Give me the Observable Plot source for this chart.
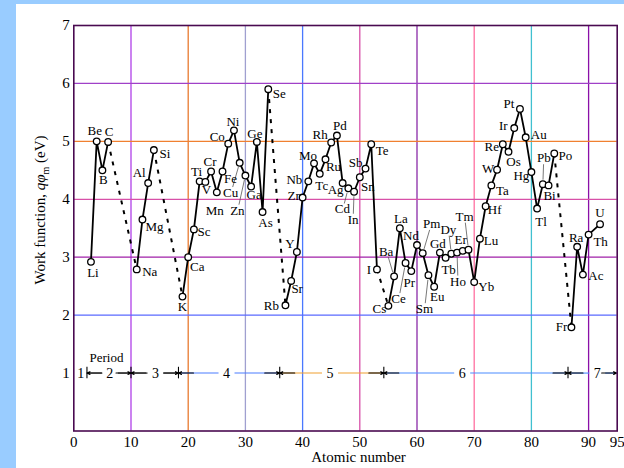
<!DOCTYPE html>
<html><head><meta charset="utf-8">
<script src="https://cdn.jsdelivr.net/npm/d3@7"></script>
<script src="https://cdn.jsdelivr.net/npm/@observablehq/plot@0.6"></script>
<style>
html,body{margin:0;padding:0;background:#99ccff;width:624px;height:468px;overflow:hidden}
#chart{position:absolute;left:16px;top:4px;width:608px;height:464px;background:#fff;overflow:hidden}
</style></head><body><div id="chart"></div>
<script>
// ---- data ----
const atomicNumber = [3,4,5,6, 11,12,13,14, 19,20,21,22,23,24,25,26,27,28,29,30,31,32,33,34,
  37,38,39,40,41,42,43,44,45,46,47,48,49,50,51,52,53,
  55,56,57,58,59,60,61,62,63,64,65,66,67,68,69,70,71,72,73,74,75,76,77,78,79,80,81,82,83,84,
  87,88,89,90,92];
const symbol = ["Li","Be","B","C", "Na","Mg","Al","Si", "K","Ca","Sc","Ti","V","Cr","Mn","Fe","Co","Ni","Cu","Zn","Ga","Ge","As","Se",
  "Rb","Sr","Y","Zr","Nb","Mo","Tc","Ru","Rh","Pd","Ag","Cd","In","Sn","Sb","Te","I",
  "Cs","Ba","La","Ce","Pr","Nd","Pm","Sm","Eu","Gd","Tb","Dy","Ho","Er","Tm","Yb","Lu","Hf","Ta","W","Re","Os","Ir","Pt","Au","Hg","Tl","Pb","Bi","Po",
  "Fr","Ra","Ac","Th","U"];
const workFunction = [2.92,5.00,4.50,4.99, 2.79,3.65,4.28,4.85,
  2.32,3.00,3.48,4.31,4.30,4.48,4.12,4.48,4.96,5.19,4.63,4.41,4.22,4.99,3.78,5.90,
  2.17,2.59,3.09,4.03,4.31,4.62,4.44,4.69,4.98,5.10,4.28,4.19,4.13,4.38,4.53,4.95,2.79,
  2.16,2.67,3.50,2.90,2.76,3.21,3.07,2.69,2.49,3.08,2.99,3.06,3.08,3.11,3.13,2.57,3.32,3.88,4.24,4.51,4.95,4.82,5.23,5.56,5.07,4.47,3.84,4.26,4.24,4.79,
  1.79,3.18,2.70,3.39,3.57];
const period = [2,2,2,2, 3,3,3,3, 4,4,4,4,4,4,4,4,4,4,4,4,4,4,4,4,
  5,5,5,5,5,5,5,5,5,5,5,5,5,5,5,5,5,
  6,6,6,6,6,6,6,6,6,6,6,6,6,6,6,6,6,6,6,6,6,6,6,6,6,6,6,6,6,6,
  7,7,7,7,7];
const xTicks = [0,10,20,30,40,50,60,70,80,90,95];
const yTicks = [1,2,3,4,5,6,7];
const xGrid = [10,20,30,40,50,60,70,80,90];
const yGrid = [2,3,4,5,6];
const periodNames = ["1","2","3","4","5","6","7"];
const periodLabelAt = [1.2, 6.3, 14.3, 26.7, 44.8, 67.9, 91.5];
const periodBounds = [2.3, 10, 18.3, 36, 54.2, 86.4, 94.9];
const periodRowLevel = 1;

// ---- layout / style (not data) ----
const W = 608, H = 464, mL = 57.3, mR = 7.3, mT = 21, mB = 37.5;
const kx = (W - mL - mR) / 95, ky = (H - mT - mB) / 7;
const labelOffset = {
  Li:[2,11], Be:[-2,-11], B:[1,10], C:[1,-10], Na:[13,2], Mg:[12,7], Al:[-9,-10], Si:[11,4],
  K:[0,10], Ca:[9,10], Sc:[10,2], Ti:[-3,-9], V:[1,8], Cr:[-1,-10], Mn:[-2,18], Fe:[8,7],
  Co:[-11,-7], Ni:[-1,-9], Cu:[-9,30], Zn:[-8,35], Ga:[3,8], Ge:[-2,-8], As:[3,11], Se:[11,5],
  Rb:[-14,1], Sr:[6,8], Y:[-7,-8], Zr:[-9,-2], Nb:[-14,-1], Mo:[-6,-8], Tc:[2,12], Ru:[8,8],
  Rh:[-11,-8], Pd:[3,-10], Ag:[-7,7], Cd:[-6,21], In:[-1,28], Sn:[8,10], Sb:[-10,-6], Te:[11,7], I:[-8,0],
  Cs:[-9,3], Ba:[-8,-25], La:[1,-9], Ce:[-7,36], Pr:[-2,12], Nd:[-6,-9], Pm:[9,-29], Sm:[-4,34],
  Eu:[3,10], Gd:[-2,-9], Tb:[3,12], Dy:[-3,-24], Ho:[1,29], Er:[-2,-11], Tm:[-4,-33], Yb:[12,5],
  Lu:[11,2], Hf:[9,4], Ta:[11,5], W:[-9,-1], Re:[-11,3], Os:[5,10], Ir:[-11,-2], Pt:[-11,-5],
  Au:[13,-2], Hg:[-10,4], Tl:[4,13], Pb:[1,-26], Bi:[1,10], Po:[11,2],
  Fr:[-10,0], Ra:[-1,-9], Ac:[13,1], Th:[12,7], U:[0,-11]
};
const leaders = new Set(["Cu","Zn","Cd","In","Ba","Ce","Pm","Sm","Dy","Ho","Tm","Pb"]);
const vGridColor = ["#b040e8","#e87a30","#a0a0d0","#4a78ff","#d850a8","#8a2aa8","#ff70a0","#40c0d0","#8a10a8"];
const yGridColor = {2:"#5a6aff",3:"#a020a8",4:"#d850a8",5:"#f08030",6:"#a040c8"};
const periodColor = ["#222","#333","#333","#4a7cff","#f0a030","#4a8cff","#4a8cff"];

const rows = atomicNumber.map((z, i) => {
  const [ox, oy] = labelOffset[symbol[i]] || [0, -10];
  return {z, sym: symbol[i], wf: workFunction[i], period: period[i],
          lx: z + ox / kx, ly: workFunction[i] - oy / ky, ox, oy};
});
const leaderRows = rows.filter(r => leaders.has(r.sym)).map(r => {
  const d = Math.hypot(r.ox, r.oy), ux = r.ox / d, uy = r.oy / d;
  return {x1: r.z + 4.5 * ux / kx, y1: r.wf - 4.5 * uy / ky,
          x2: r.z + (r.ox - 7 * ux) / kx, y2: r.wf - (r.oy - 6 * uy) / ky};
});
const dashed = [];
for (let p = 2; p < 7; p++) {
  const a = rows.filter(r => r.period === p), b = rows.filter(r => r.period === p + 1);
  const e = a[a.length - 1], s = b[0];
  dashed.push({x1: e.z, y1: e.wf, x2: s.z, y2: s.wf});
}
// period annotation row
const gap = 8 / kx, headSpan = 15 / kx;
const periodSegs = [], periodHeads = [];
for (let p = 2; p <= 7; p++) {
  const m = periodLabelAt[p - 1], L = periodBounds[p - 2], R = periodBounds[p - 1];
  periodSegs.push({x1: m - gap, x2: L, c: periodColor[p - 1]}, {x1: m + gap, x2: R, c: periodColor[p - 1]});
  periodHeads.push({x1: L + headSpan, x2: L}, {x1: R - headSpan, x2: R});
}
const periodRows = periodNames.map((n, i) => ({n, x: periodLabelAt[i]}));
const lvl = periodRowLevel;

const svg = Plot.plot({
  width: W, height: H,
  marginLeft: mL, marginRight: mR, marginTop: mT, marginBottom: mB,
  style: {background: "white", fontFamily: "'Liberation Serif', 'DejaVu Serif', serif", fontSize: "15px", color: "black"},
  x: {domain: [0, 95], ticks: xTicks, tickSize: 0, tickPadding: 5, tickFormat: d3.format("d"), label: null},
  y: {domain: [0, 7], ticks: yTicks, tickSize: 0, tickPadding: 4, tickFormat: d3.format("d"), label: null},
  color: {type: "identity"},
  marks: [
    Plot.ruleX(xGrid, {x: d => d, stroke: (d, i) => vGridColor[i], strokeWidth: 1.3}),
    Plot.ruleY(yGrid, {y: d => d, stroke: d => yGridColor[d], strokeWidth: 1.3}),
    Plot.link(periodSegs, {x1: "x1", x2: "x2", y1: () => lvl, y2: () => lvl, stroke: "c", strokeWidth: 1.1}),
    Plot.arrow(periodHeads, {x1: "x1", x2: "x2", y1: () => lvl, y2: () => lvl, stroke: "black", strokeWidth: 1.1, headLength: 4.5, headAngle: 50}),
    Plot.ruleX(periodBounds.slice(0, 6), {x: d => d, y1: () => lvl - 0.1, y2: () => lvl + 0.1, stroke: "black", strokeWidth: 1.1}),
    Plot.text(periodRows, {x: "x", y: () => lvl, text: "n", fontSize: 14, fill: "black"}),
    Plot.text(["Period"], {x: () => 5.7, y: () => lvl + 0.27, text: d => d, fontSize: 13, fill: "black"}),
    Plot.link(dashed, {x1: "x1", y1: "y1", x2: "x2", y2: "y2", stroke: "black", strokeWidth: 2, strokeDasharray: "4,6"}),
    Plot.line(rows, {x: "z", y: "wf", z: "period", stroke: "black", strokeWidth: 1.8}),
    Plot.link(leaderRows, {x1: "x1", y1: "y1", x2: "x2", y2: "y2", stroke: "#555", strokeWidth: 0.8}),
    Plot.dot(rows, {x: "z", y: "wf", r: 3.3, fill: "white", stroke: "black", strokeWidth: 1.3}),
    Plot.text(rows, {x: "lx", y: "ly", text: "sym", fontSize: 13, fill: "black"}),
    Plot.text(["Atomic number"], {frameAnchor: "bottom", text: d => d, dx: 13, dy: 31, fontSize: 15, fill: "black"}),
    Plot.frame({stroke: "#4a0a50", strokeWidth: 1.6})
  ]
});
const t = d3.select(svg).append("text")
  .attr("transform", "translate(29,206) rotate(-90)")
  .attr("text-anchor", "middle").attr("font-size", 15)
  .attr("font-family", "'Liberation Serif', serif").attr("fill", "black");
t.append("tspan").text("Work function, ");
t.append("tspan").attr("font-style", "italic").text("qφ");
t.append("tspan").attr("font-size", 10).attr("dy", 4).text("m");
t.append("tspan").attr("dy", -4).text(" (eV)");
document.getElementById("chart").appendChild(svg);
</script></body></html>
